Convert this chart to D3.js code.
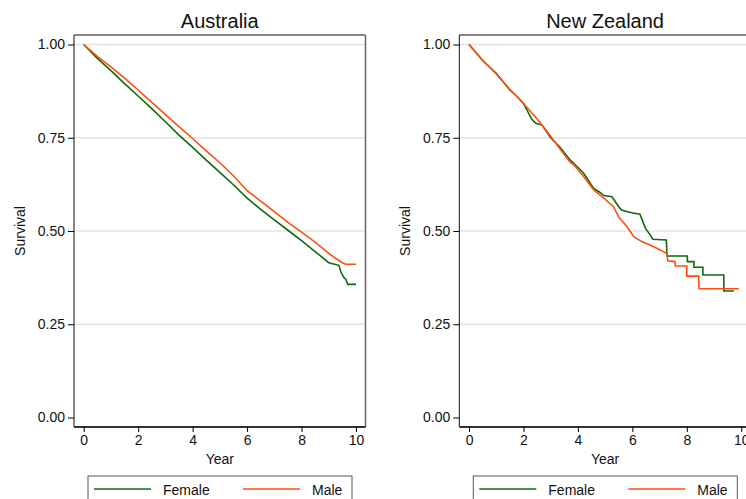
<!DOCTYPE html>
<html>
<head>
<meta charset="utf-8">
<script src="https://cdn.jsdelivr.net/npm/d3@7"></script>
<style>
  body { margin: 0; background: #fff; }
  text { font-family: "Liberation Sans", Arial, sans-serif; fill: #111; }
</style>
</head>
<body>
<div class="canvas"></div>
<script>
// Kaplan-Meier estimates: [year, survival]
// big steps are written as two points at the same year
const ausFemale = [
  [0, 1.000], [0.5, 0.963], [1.0, 0.930], [1.5, 0.895], [2.0, 0.862], [2.5, 0.828],
  [3.0, 0.793], [3.5, 0.757], [4.0, 0.724], [4.5, 0.690], [5.0, 0.657], [5.5, 0.624],
  [6.0, 0.588], [6.5, 0.558], [7.0, 0.530], [7.5, 0.502], [8.0, 0.474], [8.5, 0.445],
  [9.0, 0.415], [9.37, 0.408], [9.45, 0.390], [9.55, 0.376], [9.63, 0.370], [9.7, 0.357],
  [10.0, 0.357]
]
const ausMale = [
  [0, 1.000], [0.5, 0.968], [1.0, 0.940], [1.5, 0.910], [2.0, 0.878], [2.5, 0.845],
  [3.0, 0.812], [3.5, 0.780], [4.0, 0.748], [4.5, 0.715], [5.0, 0.683], [5.5, 0.648],
  [6.0, 0.608], [6.5, 0.580], [7.0, 0.552], [7.5, 0.523], [8.0, 0.497], [8.5, 0.470],
  [9.0, 0.440], [9.25, 0.427], [9.5, 0.415], [9.62, 0.411], [10.0, 0.411]
]
const nzFemale = [
  [0, 1.000], [0.5, 0.957], [1.0, 0.923], [1.5, 0.878], [1.75, 0.862], [2.0, 0.842],
  [2.3, 0.800], [2.45, 0.789], [2.68, 0.784], [3.0, 0.750], [3.35, 0.724], [3.72, 0.690],
  [4.05, 0.667], [4.21, 0.655], [4.58, 0.614], [4.8, 0.604], [4.95, 0.595], [5.25, 0.592],
  [5.5, 0.565], [5.6, 0.556], [5.97, 0.549], [6.28, 0.545], [6.48, 0.507], [6.66, 0.489],
  [6.75, 0.478], [7.25, 0.476], [7.27, 0.433], [8.02, 0.433], [8.02, 0.418], [8.26, 0.418],
  [8.26, 0.403], [8.59, 0.403], [8.59, 0.382], [9.36, 0.382], [9.36, 0.339], [9.73, 0.339]
]
const nzMale = [
  [0, 1.000], [0.5, 0.958], [1.0, 0.921], [1.5, 0.880], [2.0, 0.842], [2.5, 0.800],
  [2.68, 0.784], [3.04, 0.750], [3.35, 0.719], [3.72, 0.684], [3.84, 0.678], [4.21, 0.646],
  [4.58, 0.610], [4.95, 0.588], [5.31, 0.565], [5.5, 0.537], [5.8, 0.512], [6.05, 0.485],
  [6.36, 0.471], [6.66, 0.462], [7.03, 0.449], [7.25, 0.440], [7.28, 0.436], [7.3, 0.420],
  [7.56, 0.418], [7.58, 0.406], [8.0, 0.406], [8.0, 0.379], [8.43, 0.379], [8.45, 0.345],
  [9.91, 0.345]
]

const panels = [
  { title: 'Australia', left: 74, female: ausFemale, male: ausMale },
  { title: 'New Zealand', left: 459.3, female: nzFemale, male: nzMale }
]
const xTicks = [0, 2, 4, 6, 8, 10]
const yTicks = [0, 0.25, 0.5, 0.75, 1]
const gridTicks = [0.25, 0.5, 0.75, 1]
const seriesNames = ['Female', 'Male']
const colors = { Female: '#11680f', Male: '#ff4f0f' }

const svg = d3.select('.canvas')
  .append('svg')
  .attr('width', 746)
  .attr('height', 499)

const plotW = 291.5
const plotTop = 35
const plotBottom = 427

panels.forEach(p => {
  const g = svg.append('g').attr('transform', `translate(${p.left}, 0)`)

  const x = d3.scaleLinear().domain([-0.357, 10.35]).range([0, plotW])
  const y = d3.scaleLinear().domain([0, 1]).range([417.5, 44.5])

  // gridlines
  g.selectAll('.grid')
    .data(gridTicks)
    .enter()
    .append('line')
    .attr('x1', 0)
    .attr('x2', plotW)
    .attr('y1', d => y(d))
    .attr('y2', d => y(d))
    .attr('stroke', '#e3e3e3')
    .attr('stroke-width', 1.5)

  // curves
  const line = d3.line()
    .x(d => x(d[0]))
    .y(d => y(d[1]))

  g.append('path').datum(p.female)
    .attr('d', line).attr('fill', 'none')
    .attr('stroke', colors.Female).attr('stroke-width', 1.6)
  g.append('path').datum(p.male)
    .attr('d', line).attr('fill', 'none')
    .attr('stroke', colors.Male).attr('stroke-width', 1.6)

  // frame
  g.append('line').attr('x1', 0).attr('x2', plotW).attr('y1', plotTop).attr('y2', plotTop)
    .attr('stroke', '#111').attr('stroke-width', 1)
  g.append('line').attr('x1', plotW).attr('x2', plotW).attr('y1', plotTop).attr('y2', plotBottom)
    .attr('stroke', '#666').attr('stroke-width', 1.5)

  // axes
  const yAxis = d3.axisLeft(y).tickValues(yTicks).tickFormat(d3.format('.2f'))
    .tickSize(6).tickSizeOuter(0).tickPadding(3)
  const yAxisGroup = g.append('g').call(yAxis)
  yAxisGroup.select('.domain').attr('d', `M0,${plotTop}V${plotBottom}`).attr('stroke', '#111')
  yAxisGroup.selectAll('text').attr('font-size', 14).attr('fill', '#111')
    .attr('font-family', '"Liberation Sans", Arial, sans-serif')

  const xAxis = d3.axisBottom(x).tickValues(xTicks).tickSize(5).tickSizeOuter(0).tickPadding(3)
  const xAxisGroup = g.append('g').attr('transform', `translate(0, ${plotBottom})`).call(xAxis)
  xAxisGroup.select('.domain').attr('d', `M0,0H${plotW}`).attr('stroke', '#333').attr('stroke-width', 2)
  xAxisGroup.selectAll('text').attr('font-size', 14).attr('fill', '#111')
    .attr('font-family', '"Liberation Sans", Arial, sans-serif')

  // labels
  g.append('text')
    .attr('x', plotW / 2)
    .attr('y', 28)
    .attr('text-anchor', 'middle')
    .attr('font-size', 20)
    .text(p.title)

  g.append('text')
    .attr('x', x(5))
    .attr('y', 464)
    .attr('text-anchor', 'middle')
    .attr('font-size', 14)
    .text('Year')

  g.append('text')
    .attr('transform', `translate(-49, ${y(0.5)}) rotate(-90)`)
    .attr('text-anchor', 'middle')
    .attr('font-size', 14)
    .text('Survival')

  // legend
  const lg = g.append('g').attr('transform', 'translate(14, 476)')
  lg.append('rect')
    .attr('x', 0).attr('y', 0)
    .attr('width', 264).attr('height', 40)
    .attr('fill', '#fff').attr('stroke', '#555').attr('stroke-width', 1)
  seriesNames.forEach((name, i) => {
    const ox = 6 + i * 149
    lg.append('line')
      .attr('x1', ox).attr('x2', ox + 57)
      .attr('y1', 13).attr('y2', 13)
      .attr('stroke', colors[name]).attr('stroke-width', 1.6)
    lg.append('text')
      .attr('x', ox + 69)
      .attr('y', 18.5)
      .attr('font-size', 14)
      .text(name)
  })
})
</script>
</body>
</html>
